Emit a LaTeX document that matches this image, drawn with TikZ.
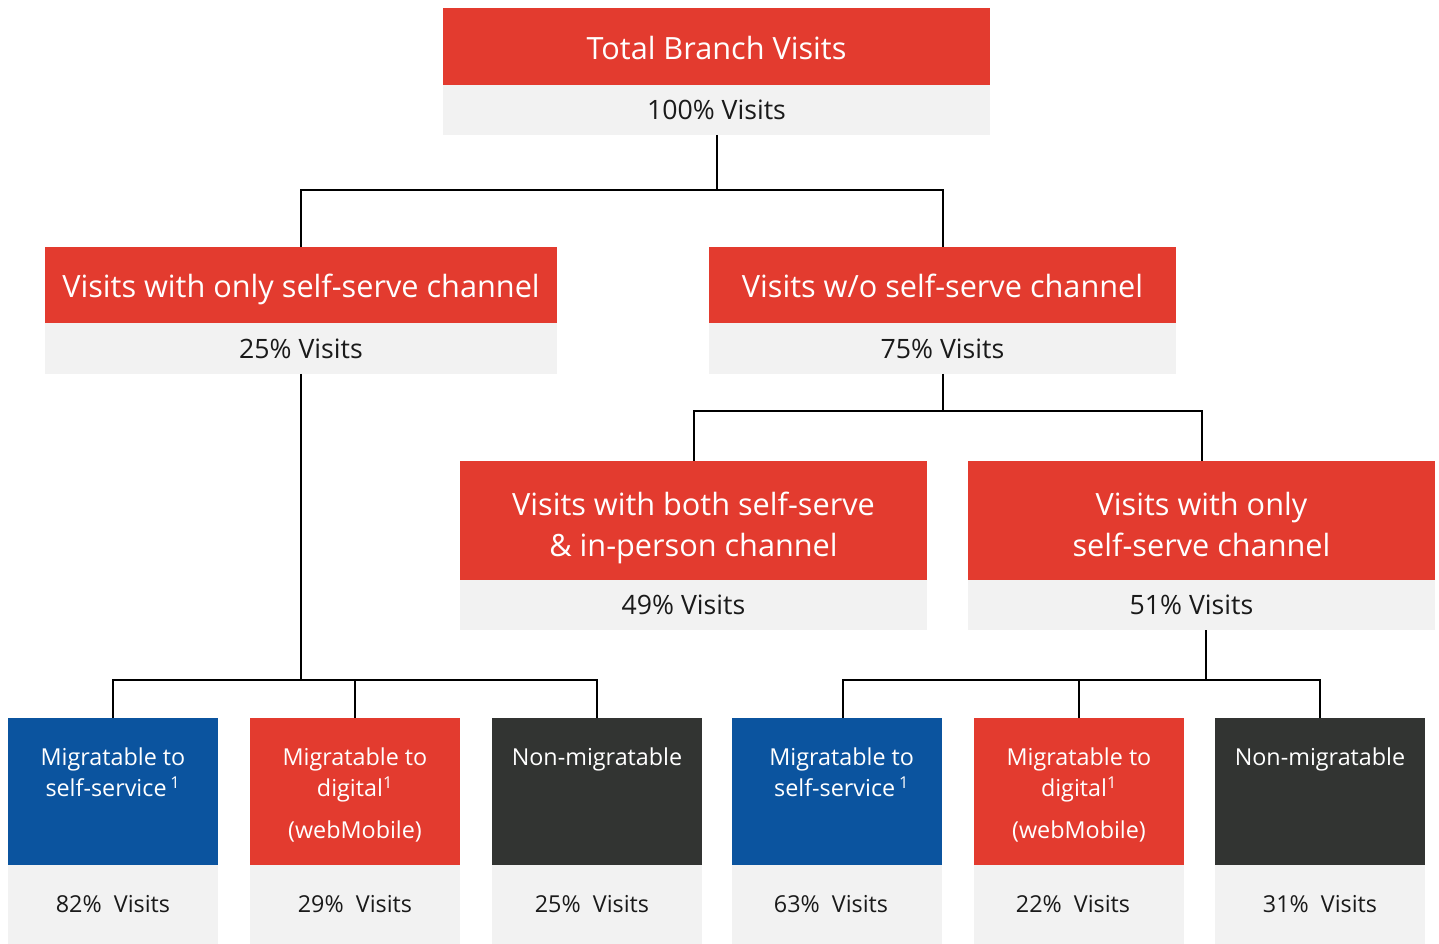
\documentclass[tikz,border=0pt]{standalone}
\usepackage{fontspec}
\setmainfont{Open Sans}
\usetikzlibrary{positioning}
\definecolor{hdred}{HTML}{E33B2F}
\definecolor{selfblue}{HTML}{0B549F}
\definecolor{nonmig}{HTML}{323432}
\definecolor{sharegray}{HTML}{F2F2F2}
\definecolor{sharetext}{HTML}{1A1A1A}
\tikzset{
  head/.style={fill=hdred, text=white, align=center, inner sep=0pt, outer sep=0pt,
    text height=19pt, text depth=0pt, font=\fontsize{23}{30.75}\selectfont},
  twoline/.style={text height=54.25pt},
  share/.style={fill=sharegray, text=sharetext, inner sep=0pt, outer sep=0pt,
    minimum height=37.5pt, font=\fontsize{20}{24}\selectfont},
  tile/.style={inner sep=0pt, outer sep=0pt, minimum width=157.5pt, minimum height=110.25pt},
  tiletext/.style={text=white, align=center, inner sep=0pt, anchor=north,
    font=\fontsize{17.5}{23.25}\selectfont},
  tileshare/.style={fill=sharegray, text=sharetext, inner sep=0pt, outer sep=0pt,
    minimum width=157.5pt, minimum height=59.25pt, font=\fontsize{17.5}{21}\selectfont}
}
\begin{document}
\begin{tikzpicture}[x=0.75pt,y=-0.75pt]
  \useasboundingbox (0,0) rectangle (1439,944);
  \node[head, minimum width=410.25pt, minimum height=57.75pt] (t0) at (716.5,46.5) {Total Branch Visits};
  \node[share, minimum width=410.25pt, below=0pt of t0] (p0) {100\% Visits};
  \node[head, minimum width=384pt, minimum height=57pt] (t1) at (301,285) {Visits with only self-serve channel};
  \node[share, minimum width=384pt, minimum height=38.25pt, below=0pt of t1] (p1) {25\% Visits};
  \node[head, minimum width=350.25pt, minimum height=57pt] (t2) at (942.5,285) {Visits w/o self-serve channel};
  \node[share, minimum width=350.25pt, minimum height=38.25pt, below=0pt of t2] (p2) {75\% Visits};
  \node[head, twoline, minimum width=350.25pt, minimum height=89.25pt] (t3) at (693.5,520.5) {Visits with both self-serve\\\& in-person channel};
  \node[share, minimum width=350.25pt, below=0pt of t3] (p3) {49\% Visits\hspace*{15pt}};
  \node[head, twoline, minimum width=350.25pt, minimum height=89.25pt] (t4) at (1201.5,520.5) {Visits with only\\self-serve channel};
  \node[share, minimum width=350.25pt, below=0pt of t4] (p4) {51\% Visits\hspace*{15pt}};

  \node[tile, fill=selfblue] (m1) at (113,791.5) {};
  \node[tiletext] (l1) at ([yshift=-22.5pt]m1.north) {Migratable to\\self-service\,\textsuperscript{1}};
  \node[tileshare, below=0pt of m1] (q1) {82\%\ \ Visits};
  \node[tile, fill=hdred] (m2) at (355,791.5) {};
  \node[tiletext] (l2) at ([yshift=-22.5pt]m2.north) {Migratable to\\digital\textsuperscript{1}\\[8.25pt](webMobile)};
  \node[tileshare, below=0pt of m2] (q2) {29\%\ \ Visits};
  \node[tile, fill=nonmig] (m3) at (597,791.5) {};
  \node[tiletext] (l3) at ([yshift=-22.5pt]m3.north) {Non-migratable};
  \node[tileshare, below=0pt of m3] (q3) {25\%\ \ Visits\hspace*{7.5pt}};
  \node[tile, fill=selfblue] (m4) at (837,791.5) {};
  \node[tiletext] (l4) at ([xshift=3.5pt,yshift=-22.5pt]m4.north) {Migratable to\\self-service\,\textsuperscript{1}};
  \node[tileshare, below=0pt of m4] (q4) {63\%\ \ Visits\hspace*{9pt}};
  \node[tile, fill=hdred] (m5) at (1079,791.5) {};
  \node[tiletext] (l5) at ([yshift=-22.5pt]m5.north) {Migratable to\\digital\textsuperscript{1}\\[8.25pt](webMobile)};
  \node[tileshare, below=0pt of m5] (q5) {22\%\ \ Visits\hspace*{9pt}};
  \node[tile, fill=nonmig] (m6) at (1320,791.5) {};
  \node[tiletext] (l6) at ([yshift=-22.5pt]m6.north) {Non-migratable};
  \node[tileshare, below=0pt of m6] (q6) {31\%\ \ Visits};

  \coordinate (r1) at (0,190);
  \coordinate (r2) at (0,411);
  \coordinate (r3) at (0,680);
  \begin{scope}[line width=1.5pt]
    \draw (p0.south) -- (p0.south |- r1);
    \draw (t1.north) |- (t2.north |- r1) -- (t2.north);
    \draw (p2.south) -- (p2.south |- r2);
    \draw (t3.north) |- (t4.north |- r2) -- (t4.north);
    \draw (p1.south) -- (p1.south |- r3);
    \draw (m1.north) |- (m3.north |- r3) -- (m3.north);
    \draw (m2.north) -- (m2.north |- r3);
    \draw ([xshift=3pt]p4.south) -- ([xshift=3pt]p4.south |- r3);
    \draw ([xshift=4.5pt]m4.north) |- (m6.north |- r3) -- (m6.north);
    \draw (m5.north) -- (m5.north |- r3);
  \end{scope}
\end{tikzpicture}
\end{document}
